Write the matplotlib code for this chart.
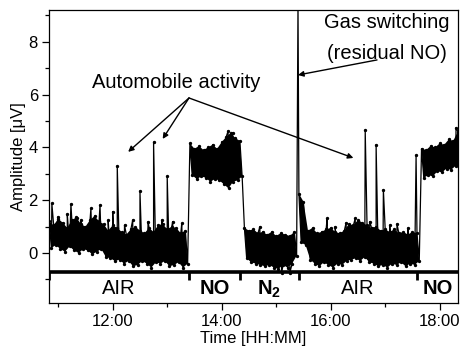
import matplotlib
matplotlib.use("Agg")
import matplotlib.pyplot as plt
import numpy as np

plt.rcParams['font.family'] = ['Liberation Sans', 'DejaVu Sans']
plt.rcParams['mathtext.fontset'] = 'custom'
plt.rcParams['mathtext.rm'] = 'Liberation Sans'
plt.rcParams['mathtext.bf'] = 'Liberation Sans:bold'
plt.rcParams['mathtext.it'] = 'Liberation Sans:italic'

# ---------------- data ----------------
bin_times = ["10:50", "10:55", "11:00", "11:05", "11:10", "11:15", "11:20", "11:25",
             "11:30", "11:35", "11:40", "11:45", "11:50", "11:55", "12:00", "12:05",
             "12:10", "12:15", "12:20", "12:25", "12:30", "12:35", "12:40", "12:45",
             "12:50", "12:55", "13:00", "13:05", "13:10", "13:15", "13:20",
             "13:25", "13:30", "13:35", "13:40", "13:45", "13:50", "13:55", "14:00",
             "14:05", "14:10", "14:15", "14:20",
             "14:25", "14:30", "14:35", "14:40", "14:45", "14:50", "14:55", "15:00",
             "15:05", "15:10", "15:15", "15:20",
             "15:25", "15:30", "15:35", "15:40", "15:45", "15:50", "15:55", "16:00",
             "16:05", "16:10", "16:15", "16:20", "16:25", "16:30", "16:35", "16:40",
             "16:45", "16:50", "16:55", "17:00", "17:05", "17:10", "17:15", "17:20",
             "17:25", "17:30", "17:35",
             "17:40", "17:45", "17:50", "17:55", "18:00", "18:05", "18:10", "18:15", "18:20"]

# upper envelope of the trace in each 5-minute bin [uV]
bin_high = [1.20, 1.05, 1.30, 1.15, 0.95, 1.25, 1.35, 1.10, 1.00, 1.25, 1.40, 1.20,
            1.10, 0.85, 1.05, 0.95, 0.80, 0.70, 0.90, 1.00, 0.85, 0.75, 0.95, 0.80,
            1.05, 1.10, 0.90, 1.00, 0.95, 0.75, 0.85,
            4.15, 3.95, 4.05, 3.90, 4.00, 4.10, 3.95, 4.20, 4.40, 4.55, 4.35, 4.25,
            0.95, 0.85, 0.90, 0.75, 0.80, 0.70, 0.80, 0.65, 0.75, 0.70, 0.65, 0.80,
            2.25, 1.95, 0.85, 0.95, 0.75, 0.80, 0.90, 0.95, 0.80, 0.75, 0.85, 1.10,
            1.05, 1.25, 1.15, 1.05, 0.95, 1.00, 0.85, 0.90, 0.80, 0.90, 0.75, 0.80,
            0.70, 0.80, 0.75,
            3.95, 3.90, 4.05, 4.00, 4.15, 4.10, 4.30, 4.25, 4.60]

# lower envelope of the trace in each 5-minute bin [uV]
bin_low = [0.20, 0.30, 0.15, 0.05, 0.25, 0.10, 0.00, 0.15, 0.10, -0.05, 0.05, 0.15,
           -0.15, -0.20, -0.30, -0.25, -0.40, -0.30, -0.50, -0.45, -0.30, -0.40, -0.55, -0.35,
           -0.40, -0.30, -0.50, -0.45, -0.35, -0.55, -0.40,
           2.95, 2.80, 2.90, 2.85, 2.70, 2.80, 2.75, 2.60, 2.45, 2.70, 2.75, 2.90,
           -0.20, -0.35, -0.40, -0.45, -0.50, -0.45, -0.55, -0.60, -0.45, -0.55, -0.40, -0.10,
           0.40, 0.30, -0.25, -0.40, -0.50, -0.35, -0.45, -0.55, -0.40, -0.45, -0.30, -0.25,
           -0.20, -0.30, -0.15, -0.35, -0.40, -0.50, -0.45, -0.55, -0.40, -0.45, -0.35, -0.50,
           -0.40, -0.45, -0.30,
           2.85, 2.95, 2.90, 3.10, 3.05, 3.20, 3.15, 3.30, 3.25]

# times where the signal level jumps (gas changes / switching)
level_steps = ["13:23", "14:22", "15:23", "17:38"]

# isolated needles / spikes (automobile events, gas switching, dips)
spike_times = ["10:53", "11:00", "11:10", "11:14", "11:21", "11:25", "11:36", "11:46",
               "11:55", "12:00", "12:05", "12:13", "12:22", "12:30", "12:39", "12:45",
               "12:54", "13:00", "13:06", "13:16",
               "14:07", "14:12", "14:42", "15:06", "15:15", "15:24",
               "15:56", "16:05", "16:17", "16:27", "16:38", "16:43", "16:50", "16:58",
               "17:05", "17:13", "17:25", "17:34", "18:18"]
spike_peaks = [1.88, 1.38, 1.48, 1.85, 1.31, 1.25, 1.69, 1.82,
               1.25, 1.57, 3.30, 1.06, 1.25, 2.35, 1.19, 4.20,
               1.25, 2.90, 1.19, 1.12,
               4.62, 4.55, 1.00, -0.75, -0.75, 9.50,
               1.31, 1.00, 1.15, 1.31, 4.65, 1.19, 4.10, 2.40,
               1.06, 1.10, 0.95, 3.70, 4.75]

phase_labels = ["AIR", "NO", r"$\mathbf{N_2}$", "AIR", "NO"]
phase_bold = [False, True, True, False, True]
phase_edges = ["10:50", "13:24", "14:20", "15:25", "17:35", "18:21"]

x_ticks = ["12:00", "14:00", "16:00", "18:00"]


def to_h(s):
    h, m = s.split(":")
    return int(h) + int(m) / 60.0


tb = np.array([to_h(s) for s in bin_times])
hi = np.array(bin_high)
lo = np.array(bin_low)
half = 2.5 / 60.0

# zig-zag trace through envelope values plus spikes
px = np.concatenate([tb, tb + half, [to_h(s) for s in spike_times]])
py = np.concatenate([hi, lo, spike_peaks])
order = np.argsort(px, kind="stable")
px, py = px[order], py[order]

# ---------------- figure ----------------
fig = plt.figure(figsize=(4.62, 3.49), dpi=100)
ax = fig.add_axes([49 / 462, 1 - 303 / 349, (458 - 49) / 462, (303 - 10) / 349])

bounds = [-np.inf] + [to_h(s) for s in level_steps] + [np.inf]
for a, b in zip(bounds[:-1], bounds[1:]):
    m = (tb > a) & (tb < b)
    xs = np.concatenate([tb[m], (tb[m] + half)[::-1]])
    ys = np.concatenate([hi[m], lo[m][::-1]])
    ax.fill(xs, ys, color="black", lw=0, zorder=2)
ax.plot(px, py, color="black", lw=0.9, marker="o", ms=1.4, zorder=3)

x0, x1 = 10.831, 18.336
ax.set_xlim(x0, x1)
ax.set_ylim(-1.89, 9.2)

# phase band
band_y = -0.72
ax.plot([x0, x1], [band_y, band_y], color="black", lw=2.6, solid_capstyle="butt", zorder=4, clip_on=False)
edges_h = [to_h(s) for s in phase_edges]
for e in edges_h:
    ax.plot([e, e], [band_y, -1.02], color="black", lw=2.0, solid_capstyle="butt", zorder=4, clip_on=True)
for i, lab in enumerate(phase_labels):
    xc = 0.5 * (edges_h[i] + edges_h[i + 1])
    ax.text(xc, -1.36, lab, ha="center", va="center", fontsize=14.5,
            fontweight="bold" if phase_bold[i] else "normal")

# annotations
src = (to_h("13:24"), 5.87)
for tgt in [(to_h("12:17"), 3.83), (to_h("12:55"), 4.32), (to_h("16:25"), 3.6)]:
    ax.annotate("", xy=tgt, xytext=src,
                arrowprops=dict(arrowstyle="-|>", color="black", lw=1.0,
                                mutation_scale=8, shrinkA=0, shrinkB=0))
ax.text(to_h("13:10"), 6.44, "Automobile activity", ha="center", va="center", fontsize=14.5)

ax.annotate("", xy=(to_h("15:24"), 6.74), xytext=(to_h("16:51"), 7.31),
            arrowprops=dict(arrowstyle="-|>", color="black", lw=1.0,
                            mutation_scale=8, shrinkA=0, shrinkB=0))
ax.text(to_h("17:02"), 8.72, "Gas switching", ha="center", va="center", fontsize=14.5)
ax.text(to_h("17:02"), 7.55, "(residual NO)", ha="center", va="center", fontsize=14.5)

# axes styling
ax.set_xticks([to_h(s) for s in x_ticks])
ax.set_xticklabels(x_ticks)
ax.set_xticks([11, 13, 15, 17], minor=True)
ax.set_yticks([0, 2, 4, 6, 8])
ax.set_yticks([-1, 1, 3, 5, 7, 9], minor=True)
ax.tick_params(which="major", direction="out", length=5, width=0.9, labelsize=12, pad=3)
ax.tick_params(which="minor", direction="out", length=3, width=0.9)
for sp in ax.spines.values():
    sp.set_linewidth(0.9)
ax.set_xlabel("Time [HH:MM]", fontsize=12, labelpad=1)
ax.set_ylabel("Amplitude [μV]", fontsize=12, labelpad=2)

fig.savefig("out.png", dpi=100)
